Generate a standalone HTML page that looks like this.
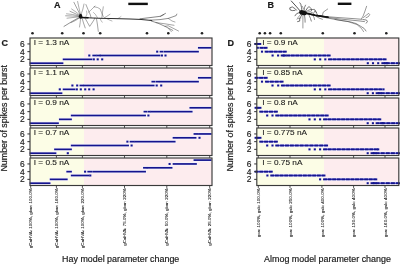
<!DOCTYPE html><html><head><meta charset="utf-8"><style>
html,body{margin:0;padding:0;background:#fff;overflow:hidden;width:400px;height:265px}
svg{display:block;filter:blur(0.3px)}
text{font-family:"Liberation Sans",sans-serif;fill:#1a1a1a;stroke:#1a1a1a;stroke-width:0.2px}
.big{font-size:9px;font-weight:bold}
.lab{stroke-width:0.1px}
.ax{stroke-width:0.18px}
.xl{stroke:#111;stroke-width:0.08px;fill:#111}
</style></head><body>
<svg width="400" height="265" viewBox="0 0 400 265">
<rect width="400" height="265" fill="#fff"/>
<rect x="30" y="38" width="54" height="27.5" fill="#fcfde6"/>
<rect x="84" y="38" width="128" height="27.5" fill="#fdecee"/>
<rect x="29" y="61.45" width="35" height="3.5" fill="#f6f3fc"/>
<rect x="62.1" y="57.6" width="30.9" height="3.5" fill="#f6f3fc"/>
<rect x="92.3" y="57.6" width="2.7" height="3.5" fill="#f6f3fc"/>
<rect x="96.2" y="57.6" width="2.7" height="3.5" fill="#f6f3fc"/>
<rect x="100.7" y="57.6" width="2.7" height="3.5" fill="#f6f3fc"/>
<rect x="87.8" y="53.75" width="2.7" height="3.5" fill="#f6f3fc"/>
<rect x="91.7" y="53.75" width="5.6" height="3.5" fill="#f6f3fc"/>
<rect x="95.7" y="53.75" width="5.7" height="3.5" fill="#f6f3fc"/>
<rect x="99" y="53.75" width="62" height="3.5" fill="#f6f3fc"/>
<rect x="160.4" y="53.75" width="2.7" height="3.5" fill="#f6f3fc"/>
<rect x="164" y="53.75" width="2.7" height="3.5" fill="#f6f3fc"/>
<rect x="155.7" y="49.9" width="2.7" height="3.5" fill="#f6f3fc"/>
<rect x="159" y="49.9" width="5" height="3.5" fill="#f6f3fc"/>
<rect x="163" y="49.9" width="36.5" height="3.5" fill="#f6f3fc"/>
<rect x="197.3" y="46.05" width="14.9" height="3.5" fill="#f6f3fc"/>
<rect x="29.65" y="62.35" width="33.7" height="1.7" fill="#14148e"/>
<rect x="62.75" y="58.5" width="29.6" height="1.7" fill="#14148e"/>
<rect x="92.75" y="58.35" width="2.1" height="2" fill="#14148e"/>
<rect x="96.65" y="58.35" width="2.1" height="2" fill="#14148e"/>
<rect x="101.15" y="58.35" width="2.1" height="2" fill="#14148e"/>
<rect x="88.25" y="54.5" width="2.1" height="2" fill="#14148e"/>
<rect x="92.35" y="54.65" width="4.3" height="1.7" fill="#14148e"/>
<rect x="96.35" y="54.65" width="4.4" height="1.7" fill="#14148e"/>
<rect x="99.65" y="54.65" width="60.7" height="1.7" fill="#14148e"/>
<rect x="160.85" y="54.5" width="2.1" height="2" fill="#14148e"/>
<rect x="164.45" y="54.5" width="2.1" height="2" fill="#14148e"/>
<rect x="156.15" y="50.65" width="2.1" height="2" fill="#14148e"/>
<rect x="159.65" y="50.8" width="3.7" height="1.7" fill="#14148e"/>
<rect x="163.65" y="50.8" width="35.2" height="1.7" fill="#14148e"/>
<rect x="197.95" y="46.95" width="13.6" height="1.7" fill="#14148e"/>
<rect x="30" y="38" width="182" height="27.5" fill="none" stroke="#3a3a3a" stroke-width="1.15"/>
<line x1="27.4" y1="59.35" x2="30" y2="59.35" stroke="#333" stroke-width="1"/>
<text x="24.6" y="62.25" class="tk" font-size="8.6" textLength="4.71" lengthAdjust="spacingAndGlyphs" text-anchor="end" style="stroke-width:0.15px">2</text>
<line x1="27.4" y1="51.65" x2="30" y2="51.65" stroke="#333" stroke-width="1"/>
<text x="24.6" y="54.55" class="tk" font-size="8.6" textLength="4.71" lengthAdjust="spacingAndGlyphs" text-anchor="end" style="stroke-width:0.15px">4</text>
<line x1="27.4" y1="43.95" x2="30" y2="43.95" stroke="#333" stroke-width="1"/>
<text x="24.6" y="46.85" class="tk" font-size="8.6" textLength="4.71" lengthAdjust="spacingAndGlyphs" text-anchor="end" style="stroke-width:0.15px">6</text>
<line x1="30.7" y1="65.5" x2="30.7" y2="67.9" stroke="#3a3a3a" stroke-width="0.9"/>
<line x1="56.4" y1="65.5" x2="56.4" y2="67.9" stroke="#3a3a3a" stroke-width="0.9"/>
<line x1="82.4" y1="65.5" x2="82.4" y2="67.9" stroke="#3a3a3a" stroke-width="0.9"/>
<line x1="124.5" y1="65.5" x2="124.5" y2="67.9" stroke="#3a3a3a" stroke-width="0.9"/>
<line x1="166.8" y1="65.5" x2="166.8" y2="67.9" stroke="#3a3a3a" stroke-width="0.9"/>
<line x1="209.7" y1="65.5" x2="209.7" y2="67.9" stroke="#3a3a3a" stroke-width="0.9"/>
<text x="33.7" y="45.3" class="lab" font-size="7.6" textLength="35.71" lengthAdjust="spacingAndGlyphs">I = 1.3 nA</text>
<rect x="256.8" y="38" width="67.2" height="27.5" fill="#fcfde6"/>
<rect x="324" y="38" width="74.8" height="27.5" fill="#fdecee"/>
<rect x="254.8" y="42.2" width="6" height="3.5" fill="#f6f3fc"/>
<rect x="256.3" y="46.05" width="2.7" height="3.5" fill="#f6f3fc"/>
<rect x="259.9" y="46.05" width="7.2" height="3.5" fill="#f6f3fc"/>
<rect x="260.5" y="49.9" width="2.7" height="3.5" fill="#f6f3fc"/>
<rect x="265.1" y="49.9" width="21.2" height="3.5" fill="#f6f3fc"/>
<rect x="271.1" y="53.75" width="2.7" height="3.5" fill="#f6f3fc"/>
<rect x="276.6" y="53.75" width="2.7" height="3.5" fill="#f6f3fc"/>
<rect x="281.2" y="53.75" width="5.1" height="3.5" fill="#f6f3fc"/>
<rect x="286.8" y="53.75" width="43.4" height="3.5" fill="#f6f3fc"/>
<rect x="313.3" y="57.6" width="2.7" height="3.5" fill="#f6f3fc"/>
<rect x="318.7" y="57.6" width="2.7" height="3.5" fill="#f6f3fc"/>
<rect x="323.8" y="57.6" width="2.7" height="3.5" fill="#f6f3fc"/>
<rect x="328.5" y="57.6" width="57.6" height="3.5" fill="#f6f3fc"/>
<rect x="366.3" y="61.45" width="2.7" height="3.5" fill="#f6f3fc"/>
<rect x="371.5" y="61.45" width="2.7" height="3.5" fill="#f6f3fc"/>
<rect x="376.7" y="61.45" width="2.7" height="3.5" fill="#f6f3fc"/>
<rect x="381.8" y="61.45" width="5.8" height="3.5" fill="#f6f3fc"/>
<rect x="386.3" y="61.45" width="13.2" height="3.5" fill="#f6f3fc"/>
<rect x="255.45" y="43.25" width="4.7" height="1.4" fill="#4a4ac4"/>
<rect x="254.35" y="43" width="3.9" height="1.9" fill="#14148e"/>
<rect x="257.35" y="43" width="3.9" height="1.9" fill="#14148e"/>
<rect x="256.75" y="46.8" width="2.1" height="2" fill="#14148e"/>
<rect x="260.55" y="47.1" width="5.9" height="1.4" fill="#4a4ac4"/>
<rect x="259.45" y="46.85" width="3.9" height="1.9" fill="#14148e"/>
<rect x="263.65" y="46.85" width="3.9" height="1.9" fill="#14148e"/>
<rect x="260.95" y="50.65" width="2.1" height="2" fill="#14148e"/>
<rect x="265.75" y="50.95" width="19.9" height="1.4" fill="#4a4ac4"/>
<rect x="264.65" y="50.7" width="3.9" height="1.9" fill="#14148e"/>
<rect x="269.2" y="50.7" width="3.9" height="1.9" fill="#14148e"/>
<rect x="273.75" y="50.7" width="3.9" height="1.9" fill="#14148e"/>
<rect x="278.3" y="50.7" width="3.9" height="1.9" fill="#14148e"/>
<rect x="282.85" y="50.7" width="3.9" height="1.9" fill="#14148e"/>
<rect x="271.55" y="54.5" width="2.1" height="2" fill="#14148e"/>
<rect x="277.05" y="54.5" width="2.1" height="2" fill="#14148e"/>
<rect x="281.85" y="54.8" width="3.8" height="1.4" fill="#4a4ac4"/>
<rect x="280.75" y="54.55" width="3.9" height="1.9" fill="#14148e"/>
<rect x="282.85" y="54.55" width="3.9" height="1.9" fill="#14148e"/>
<rect x="287.45" y="54.8" width="42.1" height="1.4" fill="#4a4ac4"/>
<rect x="286.35" y="54.55" width="3.9" height="1.9" fill="#14148e"/>
<rect x="290.84" y="54.55" width="3.9" height="1.9" fill="#14148e"/>
<rect x="295.33" y="54.55" width="3.9" height="1.9" fill="#14148e"/>
<rect x="299.82" y="54.55" width="3.9" height="1.9" fill="#14148e"/>
<rect x="304.31" y="54.55" width="3.9" height="1.9" fill="#14148e"/>
<rect x="308.79" y="54.55" width="3.9" height="1.9" fill="#14148e"/>
<rect x="313.28" y="54.55" width="3.9" height="1.9" fill="#14148e"/>
<rect x="317.77" y="54.55" width="3.9" height="1.9" fill="#14148e"/>
<rect x="322.26" y="54.55" width="3.9" height="1.9" fill="#14148e"/>
<rect x="326.75" y="54.55" width="3.9" height="1.9" fill="#14148e"/>
<rect x="313.75" y="58.35" width="2.1" height="2" fill="#14148e"/>
<rect x="319.15" y="58.35" width="2.1" height="2" fill="#14148e"/>
<rect x="324.25" y="58.35" width="2.1" height="2" fill="#14148e"/>
<rect x="329.15" y="58.65" width="56.3" height="1.4" fill="#4a4ac4"/>
<rect x="328.05" y="58.4" width="3.9" height="1.9" fill="#14148e"/>
<rect x="332.6" y="58.4" width="3.9" height="1.9" fill="#14148e"/>
<rect x="337.15" y="58.4" width="3.9" height="1.9" fill="#14148e"/>
<rect x="341.7" y="58.4" width="3.9" height="1.9" fill="#14148e"/>
<rect x="346.25" y="58.4" width="3.9" height="1.9" fill="#14148e"/>
<rect x="350.8" y="58.4" width="3.9" height="1.9" fill="#14148e"/>
<rect x="355.35" y="58.4" width="3.9" height="1.9" fill="#14148e"/>
<rect x="359.9" y="58.4" width="3.9" height="1.9" fill="#14148e"/>
<rect x="364.45" y="58.4" width="3.9" height="1.9" fill="#14148e"/>
<rect x="369" y="58.4" width="3.9" height="1.9" fill="#14148e"/>
<rect x="373.55" y="58.4" width="3.9" height="1.9" fill="#14148e"/>
<rect x="378.1" y="58.4" width="3.9" height="1.9" fill="#14148e"/>
<rect x="382.65" y="58.4" width="3.9" height="1.9" fill="#14148e"/>
<rect x="366.75" y="62.2" width="2.1" height="2" fill="#14148e"/>
<rect x="371.95" y="62.2" width="2.1" height="2" fill="#14148e"/>
<rect x="377.15" y="62.2" width="2.1" height="2" fill="#14148e"/>
<rect x="382.45" y="62.5" width="4.5" height="1.4" fill="#4a4ac4"/>
<rect x="381.35" y="62.25" width="3.9" height="1.9" fill="#14148e"/>
<rect x="384.15" y="62.25" width="3.9" height="1.9" fill="#14148e"/>
<rect x="386.95" y="62.5" width="11.9" height="1.4" fill="#4a4ac4"/>
<rect x="385.85" y="62.25" width="3.9" height="1.9" fill="#14148e"/>
<rect x="390.95" y="62.25" width="3.9" height="1.9" fill="#14148e"/>
<rect x="396.05" y="62.25" width="3.9" height="1.9" fill="#14148e"/>
<rect x="256.8" y="38" width="142" height="27.5" fill="none" stroke="#3a3a3a" stroke-width="1.15"/>
<line x1="254.2" y1="59.35" x2="256.8" y2="59.35" stroke="#333" stroke-width="1"/>
<text x="251.4" y="62.25" class="tk" font-size="8.6" textLength="4.71" lengthAdjust="spacingAndGlyphs" text-anchor="end" style="stroke-width:0.15px">2</text>
<line x1="254.2" y1="51.65" x2="256.8" y2="51.65" stroke="#333" stroke-width="1"/>
<text x="251.4" y="54.55" class="tk" font-size="8.6" textLength="4.71" lengthAdjust="spacingAndGlyphs" text-anchor="end" style="stroke-width:0.15px">4</text>
<line x1="254.2" y1="43.95" x2="256.8" y2="43.95" stroke="#333" stroke-width="1"/>
<text x="251.4" y="46.85" class="tk" font-size="8.6" textLength="4.71" lengthAdjust="spacingAndGlyphs" text-anchor="end" style="stroke-width:0.15px">6</text>
<line x1="258.3" y1="65.5" x2="258.3" y2="67.9" stroke="#3a3a3a" stroke-width="0.9"/>
<line x1="290" y1="65.5" x2="290" y2="67.9" stroke="#3a3a3a" stroke-width="0.9"/>
<line x1="321.9" y1="65.5" x2="321.9" y2="67.9" stroke="#3a3a3a" stroke-width="0.9"/>
<line x1="353.6" y1="65.5" x2="353.6" y2="67.9" stroke="#3a3a3a" stroke-width="0.9"/>
<line x1="385" y1="65.5" x2="385" y2="67.9" stroke="#3a3a3a" stroke-width="0.9"/>
<text x="262.2" y="45.3" class="lab" font-size="7.6" textLength="35.71" lengthAdjust="spacingAndGlyphs">I = 0.9 nA</text>
<rect x="30" y="68" width="54" height="27.5" fill="#fcfde6"/>
<rect x="84" y="68" width="128" height="27.5" fill="#fdecee"/>
<rect x="29" y="91.45" width="34" height="3.5" fill="#f6f3fc"/>
<rect x="58.3" y="87.6" width="2.7" height="3.5" fill="#f6f3fc"/>
<rect x="62.1" y="87.6" width="13.9" height="3.5" fill="#f6f3fc"/>
<rect x="75.3" y="87.6" width="2.7" height="3.5" fill="#f6f3fc"/>
<rect x="79.3" y="87.6" width="2.7" height="3.5" fill="#f6f3fc"/>
<rect x="83.7" y="87.6" width="2.7" height="3.5" fill="#f6f3fc"/>
<rect x="87.7" y="87.6" width="2.7" height="3.5" fill="#f6f3fc"/>
<rect x="92.1" y="87.6" width="2.7" height="3.5" fill="#f6f3fc"/>
<rect x="70.9" y="83.75" width="2.7" height="3.5" fill="#f6f3fc"/>
<rect x="75.7" y="83.75" width="2.7" height="3.5" fill="#f6f3fc"/>
<rect x="78.9" y="83.75" width="5.8" height="3.5" fill="#f6f3fc"/>
<rect x="82.9" y="83.75" width="5.8" height="3.5" fill="#f6f3fc"/>
<rect x="87.3" y="83.75" width="5.8" height="3.5" fill="#f6f3fc"/>
<rect x="91.5" y="83.75" width="63.7" height="3.5" fill="#f6f3fc"/>
<rect x="155.2" y="83.75" width="2.7" height="3.5" fill="#f6f3fc"/>
<rect x="159.7" y="83.75" width="2.7" height="3.5" fill="#f6f3fc"/>
<rect x="150.8" y="79.9" width="5.2" height="3.5" fill="#f6f3fc"/>
<rect x="155" y="79.9" width="4.9" height="3.5" fill="#f6f3fc"/>
<rect x="158.3" y="79.9" width="41.2" height="3.5" fill="#f6f3fc"/>
<rect x="197.3" y="76.05" width="14.9" height="3.5" fill="#f6f3fc"/>
<rect x="29.65" y="92.35" width="32.7" height="1.7" fill="#14148e"/>
<rect x="58.75" y="88.35" width="2.1" height="2" fill="#14148e"/>
<rect x="62.75" y="88.5" width="12.6" height="1.7" fill="#14148e"/>
<rect x="75.75" y="88.35" width="2.1" height="2" fill="#14148e"/>
<rect x="79.75" y="88.35" width="2.1" height="2" fill="#14148e"/>
<rect x="84.15" y="88.35" width="2.1" height="2" fill="#14148e"/>
<rect x="88.15" y="88.35" width="2.1" height="2" fill="#14148e"/>
<rect x="92.55" y="88.35" width="2.1" height="2" fill="#14148e"/>
<rect x="71.35" y="84.5" width="2.1" height="2" fill="#14148e"/>
<rect x="76.15" y="84.5" width="2.1" height="2" fill="#14148e"/>
<rect x="79.55" y="84.65" width="4.5" height="1.7" fill="#14148e"/>
<rect x="83.55" y="84.65" width="4.5" height="1.7" fill="#14148e"/>
<rect x="87.95" y="84.65" width="4.5" height="1.7" fill="#14148e"/>
<rect x="92.15" y="84.65" width="62.4" height="1.7" fill="#14148e"/>
<rect x="155.65" y="84.5" width="2.1" height="2" fill="#14148e"/>
<rect x="160.15" y="84.5" width="2.1" height="2" fill="#14148e"/>
<rect x="151.45" y="80.8" width="3.9" height="1.7" fill="#14148e"/>
<rect x="155.65" y="80.8" width="3.6" height="1.7" fill="#14148e"/>
<rect x="158.95" y="80.8" width="39.9" height="1.7" fill="#14148e"/>
<rect x="197.95" y="76.95" width="13.6" height="1.7" fill="#14148e"/>
<rect x="30" y="68" width="182" height="27.5" fill="none" stroke="#3a3a3a" stroke-width="1.15"/>
<line x1="27.4" y1="89.35" x2="30" y2="89.35" stroke="#333" stroke-width="1"/>
<text x="24.6" y="92.25" class="tk" font-size="8.6" textLength="4.71" lengthAdjust="spacingAndGlyphs" text-anchor="end" style="stroke-width:0.15px">2</text>
<line x1="27.4" y1="81.65" x2="30" y2="81.65" stroke="#333" stroke-width="1"/>
<text x="24.6" y="84.55" class="tk" font-size="8.6" textLength="4.71" lengthAdjust="spacingAndGlyphs" text-anchor="end" style="stroke-width:0.15px">4</text>
<line x1="27.4" y1="73.95" x2="30" y2="73.95" stroke="#333" stroke-width="1"/>
<text x="24.6" y="76.85" class="tk" font-size="8.6" textLength="4.71" lengthAdjust="spacingAndGlyphs" text-anchor="end" style="stroke-width:0.15px">6</text>
<line x1="30.7" y1="95.5" x2="30.7" y2="97.9" stroke="#3a3a3a" stroke-width="0.9"/>
<line x1="56.4" y1="95.5" x2="56.4" y2="97.9" stroke="#3a3a3a" stroke-width="0.9"/>
<line x1="82.4" y1="95.5" x2="82.4" y2="97.9" stroke="#3a3a3a" stroke-width="0.9"/>
<line x1="124.5" y1="95.5" x2="124.5" y2="97.9" stroke="#3a3a3a" stroke-width="0.9"/>
<line x1="166.8" y1="95.5" x2="166.8" y2="97.9" stroke="#3a3a3a" stroke-width="0.9"/>
<line x1="209.7" y1="95.5" x2="209.7" y2="97.9" stroke="#3a3a3a" stroke-width="0.9"/>
<text x="33.7" y="75.3" class="lab" font-size="7.6" textLength="35.71" lengthAdjust="spacingAndGlyphs">I = 1.1 nA</text>
<rect x="256.8" y="68" width="67.2" height="27.5" fill="#fcfde6"/>
<rect x="324" y="68" width="74.8" height="27.5" fill="#fdecee"/>
<rect x="255" y="76.05" width="12.2" height="3.5" fill="#f6f3fc"/>
<rect x="260.5" y="79.9" width="2.7" height="3.5" fill="#f6f3fc"/>
<rect x="265.4" y="79.9" width="17.7" height="3.5" fill="#f6f3fc"/>
<rect x="271" y="83.75" width="2.7" height="3.5" fill="#f6f3fc"/>
<rect x="276.7" y="83.75" width="2.7" height="3.5" fill="#f6f3fc"/>
<rect x="281.4" y="83.75" width="48.8" height="3.5" fill="#f6f3fc"/>
<rect x="313.3" y="87.6" width="2.7" height="3.5" fill="#f6f3fc"/>
<rect x="318.6" y="87.6" width="2.7" height="3.5" fill="#f6f3fc"/>
<rect x="323.8" y="87.6" width="2.7" height="3.5" fill="#f6f3fc"/>
<rect x="328.5" y="87.6" width="53.4" height="3.5" fill="#f6f3fc"/>
<rect x="382" y="87.6" width="2.7" height="3.5" fill="#f6f3fc"/>
<rect x="366.2" y="91.45" width="2.7" height="3.5" fill="#f6f3fc"/>
<rect x="371.4" y="91.45" width="2.7" height="3.5" fill="#f6f3fc"/>
<rect x="376.1" y="91.45" width="5.3" height="3.5" fill="#f6f3fc"/>
<rect x="381.2" y="91.45" width="18.3" height="3.5" fill="#f6f3fc"/>
<rect x="255.65" y="77.1" width="10.9" height="1.4" fill="#4a4ac4"/>
<rect x="254.55" y="76.85" width="3.9" height="1.9" fill="#14148e"/>
<rect x="259.15" y="76.85" width="3.9" height="1.9" fill="#14148e"/>
<rect x="263.75" y="76.85" width="3.9" height="1.9" fill="#14148e"/>
<rect x="260.95" y="80.65" width="2.1" height="2" fill="#14148e"/>
<rect x="266.05" y="80.95" width="16.4" height="1.4" fill="#4a4ac4"/>
<rect x="264.95" y="80.7" width="3.9" height="1.9" fill="#14148e"/>
<rect x="269.85" y="80.7" width="3.9" height="1.9" fill="#14148e"/>
<rect x="274.75" y="80.7" width="3.9" height="1.9" fill="#14148e"/>
<rect x="279.65" y="80.7" width="3.9" height="1.9" fill="#14148e"/>
<rect x="271.45" y="84.5" width="2.1" height="2" fill="#14148e"/>
<rect x="277.15" y="84.5" width="2.1" height="2" fill="#14148e"/>
<rect x="282.05" y="84.8" width="47.5" height="1.4" fill="#4a4ac4"/>
<rect x="280.95" y="84.55" width="3.9" height="1.9" fill="#14148e"/>
<rect x="285.53" y="84.55" width="3.9" height="1.9" fill="#14148e"/>
<rect x="290.11" y="84.55" width="3.9" height="1.9" fill="#14148e"/>
<rect x="294.69" y="84.55" width="3.9" height="1.9" fill="#14148e"/>
<rect x="299.27" y="84.55" width="3.9" height="1.9" fill="#14148e"/>
<rect x="303.85" y="84.55" width="3.9" height="1.9" fill="#14148e"/>
<rect x="308.43" y="84.55" width="3.9" height="1.9" fill="#14148e"/>
<rect x="313.01" y="84.55" width="3.9" height="1.9" fill="#14148e"/>
<rect x="317.59" y="84.55" width="3.9" height="1.9" fill="#14148e"/>
<rect x="322.17" y="84.55" width="3.9" height="1.9" fill="#14148e"/>
<rect x="326.75" y="84.55" width="3.9" height="1.9" fill="#14148e"/>
<rect x="313.75" y="88.35" width="2.1" height="2" fill="#14148e"/>
<rect x="319.05" y="88.35" width="2.1" height="2" fill="#14148e"/>
<rect x="324.25" y="88.35" width="2.1" height="2" fill="#14148e"/>
<rect x="329.15" y="88.65" width="52.1" height="1.4" fill="#4a4ac4"/>
<rect x="328.05" y="88.4" width="3.9" height="1.9" fill="#14148e"/>
<rect x="332.63" y="88.4" width="3.9" height="1.9" fill="#14148e"/>
<rect x="337.21" y="88.4" width="3.9" height="1.9" fill="#14148e"/>
<rect x="341.8" y="88.4" width="3.9" height="1.9" fill="#14148e"/>
<rect x="346.38" y="88.4" width="3.9" height="1.9" fill="#14148e"/>
<rect x="350.96" y="88.4" width="3.9" height="1.9" fill="#14148e"/>
<rect x="355.54" y="88.4" width="3.9" height="1.9" fill="#14148e"/>
<rect x="360.12" y="88.4" width="3.9" height="1.9" fill="#14148e"/>
<rect x="364.7" y="88.4" width="3.9" height="1.9" fill="#14148e"/>
<rect x="369.29" y="88.4" width="3.9" height="1.9" fill="#14148e"/>
<rect x="373.87" y="88.4" width="3.9" height="1.9" fill="#14148e"/>
<rect x="378.45" y="88.4" width="3.9" height="1.9" fill="#14148e"/>
<rect x="382.45" y="88.35" width="2.1" height="2" fill="#14148e"/>
<rect x="366.65" y="92.2" width="2.1" height="2" fill="#14148e"/>
<rect x="371.85" y="92.2" width="2.1" height="2" fill="#14148e"/>
<rect x="376.75" y="92.5" width="4" height="1.4" fill="#4a4ac4"/>
<rect x="375.65" y="92.25" width="3.9" height="1.9" fill="#14148e"/>
<rect x="377.95" y="92.25" width="3.9" height="1.9" fill="#14148e"/>
<rect x="381.85" y="92.5" width="17" height="1.4" fill="#4a4ac4"/>
<rect x="380.75" y="92.25" width="3.9" height="1.9" fill="#14148e"/>
<rect x="385.85" y="92.25" width="3.9" height="1.9" fill="#14148e"/>
<rect x="390.95" y="92.25" width="3.9" height="1.9" fill="#14148e"/>
<rect x="396.05" y="92.25" width="3.9" height="1.9" fill="#14148e"/>
<rect x="256.8" y="68" width="142" height="27.5" fill="none" stroke="#3a3a3a" stroke-width="1.15"/>
<line x1="254.2" y1="89.35" x2="256.8" y2="89.35" stroke="#333" stroke-width="1"/>
<text x="251.4" y="92.25" class="tk" font-size="8.6" textLength="4.71" lengthAdjust="spacingAndGlyphs" text-anchor="end" style="stroke-width:0.15px">2</text>
<line x1="254.2" y1="81.65" x2="256.8" y2="81.65" stroke="#333" stroke-width="1"/>
<text x="251.4" y="84.55" class="tk" font-size="8.6" textLength="4.71" lengthAdjust="spacingAndGlyphs" text-anchor="end" style="stroke-width:0.15px">4</text>
<line x1="254.2" y1="73.95" x2="256.8" y2="73.95" stroke="#333" stroke-width="1"/>
<text x="251.4" y="76.85" class="tk" font-size="8.6" textLength="4.71" lengthAdjust="spacingAndGlyphs" text-anchor="end" style="stroke-width:0.15px">6</text>
<line x1="258.3" y1="95.5" x2="258.3" y2="97.9" stroke="#3a3a3a" stroke-width="0.9"/>
<line x1="290" y1="95.5" x2="290" y2="97.9" stroke="#3a3a3a" stroke-width="0.9"/>
<line x1="321.9" y1="95.5" x2="321.9" y2="97.9" stroke="#3a3a3a" stroke-width="0.9"/>
<line x1="353.6" y1="95.5" x2="353.6" y2="97.9" stroke="#3a3a3a" stroke-width="0.9"/>
<line x1="385" y1="95.5" x2="385" y2="97.9" stroke="#3a3a3a" stroke-width="0.9"/>
<text x="262.2" y="75.3" class="lab" font-size="7.6" textLength="40.26" lengthAdjust="spacingAndGlyphs">I = 0.85 nA</text>
<rect x="30" y="98" width="54" height="27.5" fill="#fcfde6"/>
<rect x="84" y="98" width="128" height="27.5" fill="#fdecee"/>
<rect x="29" y="121.45" width="30.5" height="3.5" fill="#f6f3fc"/>
<rect x="58.3" y="117.6" width="14.2" height="3.5" fill="#f6f3fc"/>
<rect x="70.2" y="113.75" width="76.4" height="3.5" fill="#f6f3fc"/>
<rect x="146.9" y="113.75" width="2.7" height="3.5" fill="#f6f3fc"/>
<rect x="142.9" y="109.9" width="5.1" height="3.5" fill="#f6f3fc"/>
<rect x="147" y="109.9" width="4.5" height="3.5" fill="#f6f3fc"/>
<rect x="149.9" y="109.9" width="43.3" height="3.5" fill="#f6f3fc"/>
<rect x="188.8" y="106.05" width="23.4" height="3.5" fill="#f6f3fc"/>
<rect x="29.65" y="122.35" width="29.2" height="1.7" fill="#14148e"/>
<rect x="58.95" y="118.5" width="12.9" height="1.7" fill="#14148e"/>
<rect x="70.85" y="114.65" width="75.1" height="1.7" fill="#14148e"/>
<rect x="147.35" y="114.5" width="2.1" height="2" fill="#14148e"/>
<rect x="143.55" y="110.8" width="3.8" height="1.7" fill="#14148e"/>
<rect x="147.65" y="110.8" width="3.2" height="1.7" fill="#14148e"/>
<rect x="150.55" y="110.8" width="42" height="1.7" fill="#14148e"/>
<rect x="189.45" y="106.95" width="22.1" height="1.7" fill="#14148e"/>
<rect x="30" y="98" width="182" height="27.5" fill="none" stroke="#3a3a3a" stroke-width="1.15"/>
<line x1="27.4" y1="119.35" x2="30" y2="119.35" stroke="#333" stroke-width="1"/>
<text x="24.6" y="122.25" class="tk" font-size="8.6" textLength="4.71" lengthAdjust="spacingAndGlyphs" text-anchor="end" style="stroke-width:0.15px">2</text>
<line x1="27.4" y1="111.65" x2="30" y2="111.65" stroke="#333" stroke-width="1"/>
<text x="24.6" y="114.55" class="tk" font-size="8.6" textLength="4.71" lengthAdjust="spacingAndGlyphs" text-anchor="end" style="stroke-width:0.15px">4</text>
<line x1="27.4" y1="103.95" x2="30" y2="103.95" stroke="#333" stroke-width="1"/>
<text x="24.6" y="106.85" class="tk" font-size="8.6" textLength="4.71" lengthAdjust="spacingAndGlyphs" text-anchor="end" style="stroke-width:0.15px">6</text>
<line x1="30.7" y1="125.5" x2="30.7" y2="127.9" stroke="#3a3a3a" stroke-width="0.9"/>
<line x1="56.4" y1="125.5" x2="56.4" y2="127.9" stroke="#3a3a3a" stroke-width="0.9"/>
<line x1="82.4" y1="125.5" x2="82.4" y2="127.9" stroke="#3a3a3a" stroke-width="0.9"/>
<line x1="124.5" y1="125.5" x2="124.5" y2="127.9" stroke="#3a3a3a" stroke-width="0.9"/>
<line x1="166.8" y1="125.5" x2="166.8" y2="127.9" stroke="#3a3a3a" stroke-width="0.9"/>
<line x1="209.7" y1="125.5" x2="209.7" y2="127.9" stroke="#3a3a3a" stroke-width="0.9"/>
<text x="33.7" y="105.3" class="lab" font-size="7.6" textLength="35.71" lengthAdjust="spacingAndGlyphs">I = 0.9 nA</text>
<rect x="256.8" y="98" width="67.2" height="27.5" fill="#fcfde6"/>
<rect x="324" y="98" width="74.8" height="27.5" fill="#fdecee"/>
<rect x="255" y="106.05" width="6" height="3.5" fill="#f6f3fc"/>
<rect x="259.7" y="109.9" width="17.7" height="3.5" fill="#f6f3fc"/>
<rect x="265.7" y="113.75" width="2.7" height="3.5" fill="#f6f3fc"/>
<rect x="271" y="113.75" width="2.7" height="3.5" fill="#f6f3fc"/>
<rect x="275.7" y="113.75" width="52.5" height="3.5" fill="#f6f3fc"/>
<rect x="308" y="117.6" width="2.7" height="3.5" fill="#f6f3fc"/>
<rect x="313.3" y="117.6" width="2.7" height="3.5" fill="#f6f3fc"/>
<rect x="318.6" y="117.6" width="2.7" height="3.5" fill="#f6f3fc"/>
<rect x="323.5" y="117.6" width="57.3" height="3.5" fill="#f6f3fc"/>
<rect x="366.2" y="121.45" width="2.7" height="3.5" fill="#f6f3fc"/>
<rect x="371.4" y="121.45" width="2.7" height="3.5" fill="#f6f3fc"/>
<rect x="376.1" y="121.45" width="7.4" height="3.5" fill="#f6f3fc"/>
<rect x="382" y="121.45" width="17.5" height="3.5" fill="#f6f3fc"/>
<rect x="255.65" y="107.1" width="4.7" height="1.4" fill="#4a4ac4"/>
<rect x="254.55" y="106.85" width="3.9" height="1.9" fill="#14148e"/>
<rect x="257.55" y="106.85" width="3.9" height="1.9" fill="#14148e"/>
<rect x="260.35" y="110.95" width="16.4" height="1.4" fill="#4a4ac4"/>
<rect x="259.25" y="110.7" width="3.9" height="1.9" fill="#14148e"/>
<rect x="264.15" y="110.7" width="3.9" height="1.9" fill="#14148e"/>
<rect x="269.05" y="110.7" width="3.9" height="1.9" fill="#14148e"/>
<rect x="273.95" y="110.7" width="3.9" height="1.9" fill="#14148e"/>
<rect x="266.15" y="114.5" width="2.1" height="2" fill="#14148e"/>
<rect x="271.45" y="114.5" width="2.1" height="2" fill="#14148e"/>
<rect x="276.35" y="114.8" width="51.2" height="1.4" fill="#4a4ac4"/>
<rect x="275.25" y="114.55" width="3.9" height="1.9" fill="#14148e"/>
<rect x="279.75" y="114.55" width="3.9" height="1.9" fill="#14148e"/>
<rect x="284.25" y="114.55" width="3.9" height="1.9" fill="#14148e"/>
<rect x="288.75" y="114.55" width="3.9" height="1.9" fill="#14148e"/>
<rect x="293.25" y="114.55" width="3.9" height="1.9" fill="#14148e"/>
<rect x="297.75" y="114.55" width="3.9" height="1.9" fill="#14148e"/>
<rect x="302.25" y="114.55" width="3.9" height="1.9" fill="#14148e"/>
<rect x="306.75" y="114.55" width="3.9" height="1.9" fill="#14148e"/>
<rect x="311.25" y="114.55" width="3.9" height="1.9" fill="#14148e"/>
<rect x="315.75" y="114.55" width="3.9" height="1.9" fill="#14148e"/>
<rect x="320.25" y="114.55" width="3.9" height="1.9" fill="#14148e"/>
<rect x="324.75" y="114.55" width="3.9" height="1.9" fill="#14148e"/>
<rect x="308.45" y="118.35" width="2.1" height="2" fill="#14148e"/>
<rect x="313.75" y="118.35" width="2.1" height="2" fill="#14148e"/>
<rect x="319.05" y="118.35" width="2.1" height="2" fill="#14148e"/>
<rect x="324.15" y="118.65" width="56" height="1.4" fill="#4a4ac4"/>
<rect x="323.05" y="118.4" width="3.9" height="1.9" fill="#14148e"/>
<rect x="327.57" y="118.4" width="3.9" height="1.9" fill="#14148e"/>
<rect x="332.1" y="118.4" width="3.9" height="1.9" fill="#14148e"/>
<rect x="336.62" y="118.4" width="3.9" height="1.9" fill="#14148e"/>
<rect x="341.15" y="118.4" width="3.9" height="1.9" fill="#14148e"/>
<rect x="345.68" y="118.4" width="3.9" height="1.9" fill="#14148e"/>
<rect x="350.2" y="118.4" width="3.9" height="1.9" fill="#14148e"/>
<rect x="354.73" y="118.4" width="3.9" height="1.9" fill="#14148e"/>
<rect x="359.25" y="118.4" width="3.9" height="1.9" fill="#14148e"/>
<rect x="363.78" y="118.4" width="3.9" height="1.9" fill="#14148e"/>
<rect x="368.3" y="118.4" width="3.9" height="1.9" fill="#14148e"/>
<rect x="372.83" y="118.4" width="3.9" height="1.9" fill="#14148e"/>
<rect x="377.35" y="118.4" width="3.9" height="1.9" fill="#14148e"/>
<rect x="366.65" y="122.2" width="2.1" height="2" fill="#14148e"/>
<rect x="371.85" y="122.2" width="2.1" height="2" fill="#14148e"/>
<rect x="376.75" y="122.5" width="6.1" height="1.4" fill="#4a4ac4"/>
<rect x="375.65" y="122.25" width="3.9" height="1.9" fill="#14148e"/>
<rect x="380.05" y="122.25" width="3.9" height="1.9" fill="#14148e"/>
<rect x="382.65" y="122.5" width="16.2" height="1.4" fill="#4a4ac4"/>
<rect x="381.55" y="122.25" width="3.9" height="1.9" fill="#14148e"/>
<rect x="386.38" y="122.25" width="3.9" height="1.9" fill="#14148e"/>
<rect x="391.22" y="122.25" width="3.9" height="1.9" fill="#14148e"/>
<rect x="396.05" y="122.25" width="3.9" height="1.9" fill="#14148e"/>
<rect x="256.8" y="98" width="142" height="27.5" fill="none" stroke="#3a3a3a" stroke-width="1.15"/>
<line x1="254.2" y1="119.35" x2="256.8" y2="119.35" stroke="#333" stroke-width="1"/>
<text x="251.4" y="122.25" class="tk" font-size="8.6" textLength="4.71" lengthAdjust="spacingAndGlyphs" text-anchor="end" style="stroke-width:0.15px">2</text>
<line x1="254.2" y1="111.65" x2="256.8" y2="111.65" stroke="#333" stroke-width="1"/>
<text x="251.4" y="114.55" class="tk" font-size="8.6" textLength="4.71" lengthAdjust="spacingAndGlyphs" text-anchor="end" style="stroke-width:0.15px">4</text>
<line x1="254.2" y1="103.95" x2="256.8" y2="103.95" stroke="#333" stroke-width="1"/>
<text x="251.4" y="106.85" class="tk" font-size="8.6" textLength="4.71" lengthAdjust="spacingAndGlyphs" text-anchor="end" style="stroke-width:0.15px">6</text>
<line x1="258.3" y1="125.5" x2="258.3" y2="127.9" stroke="#3a3a3a" stroke-width="0.9"/>
<line x1="290" y1="125.5" x2="290" y2="127.9" stroke="#3a3a3a" stroke-width="0.9"/>
<line x1="321.9" y1="125.5" x2="321.9" y2="127.9" stroke="#3a3a3a" stroke-width="0.9"/>
<line x1="353.6" y1="125.5" x2="353.6" y2="127.9" stroke="#3a3a3a" stroke-width="0.9"/>
<line x1="385" y1="125.5" x2="385" y2="127.9" stroke="#3a3a3a" stroke-width="0.9"/>
<text x="262.2" y="105.3" class="lab" font-size="7.6" textLength="35.71" lengthAdjust="spacingAndGlyphs">I = 0.8 nA</text>
<rect x="30" y="128" width="54" height="27.5" fill="#fcfde6"/>
<rect x="84" y="128" width="128" height="27.5" fill="#fdecee"/>
<rect x="29" y="151.45" width="28" height="3.5" fill="#f6f3fc"/>
<rect x="66.3" y="151.45" width="2.7" height="3.5" fill="#f6f3fc"/>
<rect x="53.5" y="147.6" width="19" height="3.5" fill="#f6f3fc"/>
<rect x="70.2" y="143.75" width="59.4" height="3.5" fill="#f6f3fc"/>
<rect x="130.1" y="143.75" width="2.7" height="3.5" fill="#f6f3fc"/>
<rect x="125.9" y="139.9" width="2.7" height="3.5" fill="#f6f3fc"/>
<rect x="129" y="139.9" width="6" height="3.5" fill="#f6f3fc"/>
<rect x="133.5" y="139.9" width="42.7" height="3.5" fill="#f6f3fc"/>
<rect x="172" y="136.05" width="5.8" height="3.5" fill="#f6f3fc"/>
<rect x="176.2" y="136.05" width="20.9" height="3.5" fill="#f6f3fc"/>
<rect x="198" y="136.05" width="2.7" height="3.5" fill="#f6f3fc"/>
<rect x="192.9" y="132.2" width="6.1" height="3.5" fill="#f6f3fc"/>
<rect x="197.5" y="132.2" width="14.7" height="3.5" fill="#f6f3fc"/>
<rect x="29.65" y="152.35" width="26.7" height="1.7" fill="#14148e"/>
<rect x="66.75" y="152.2" width="2.1" height="2" fill="#14148e"/>
<rect x="54.15" y="148.5" width="17.7" height="1.7" fill="#14148e"/>
<rect x="70.85" y="144.65" width="58.1" height="1.7" fill="#14148e"/>
<rect x="130.55" y="144.5" width="2.1" height="2" fill="#14148e"/>
<rect x="126.35" y="140.65" width="2.1" height="2" fill="#14148e"/>
<rect x="129.65" y="140.8" width="4.7" height="1.7" fill="#14148e"/>
<rect x="134.15" y="140.8" width="41.4" height="1.7" fill="#14148e"/>
<rect x="172.65" y="136.95" width="4.5" height="1.7" fill="#14148e"/>
<rect x="176.85" y="136.95" width="19.6" height="1.7" fill="#14148e"/>
<rect x="198.45" y="136.8" width="2.1" height="2" fill="#14148e"/>
<rect x="193.55" y="133.1" width="4.8" height="1.7" fill="#14148e"/>
<rect x="198.15" y="133.1" width="13.4" height="1.7" fill="#14148e"/>
<rect x="30" y="128" width="182" height="27.5" fill="none" stroke="#3a3a3a" stroke-width="1.15"/>
<line x1="27.4" y1="149.35" x2="30" y2="149.35" stroke="#333" stroke-width="1"/>
<text x="24.6" y="152.25" class="tk" font-size="8.6" textLength="4.71" lengthAdjust="spacingAndGlyphs" text-anchor="end" style="stroke-width:0.15px">2</text>
<line x1="27.4" y1="141.65" x2="30" y2="141.65" stroke="#333" stroke-width="1"/>
<text x="24.6" y="144.55" class="tk" font-size="8.6" textLength="4.71" lengthAdjust="spacingAndGlyphs" text-anchor="end" style="stroke-width:0.15px">4</text>
<line x1="27.4" y1="133.95" x2="30" y2="133.95" stroke="#333" stroke-width="1"/>
<text x="24.6" y="136.85" class="tk" font-size="8.6" textLength="4.71" lengthAdjust="spacingAndGlyphs" text-anchor="end" style="stroke-width:0.15px">6</text>
<line x1="30.7" y1="155.5" x2="30.7" y2="157.9" stroke="#3a3a3a" stroke-width="0.9"/>
<line x1="56.4" y1="155.5" x2="56.4" y2="157.9" stroke="#3a3a3a" stroke-width="0.9"/>
<line x1="82.4" y1="155.5" x2="82.4" y2="157.9" stroke="#3a3a3a" stroke-width="0.9"/>
<line x1="124.5" y1="155.5" x2="124.5" y2="157.9" stroke="#3a3a3a" stroke-width="0.9"/>
<line x1="166.8" y1="155.5" x2="166.8" y2="157.9" stroke="#3a3a3a" stroke-width="0.9"/>
<line x1="209.7" y1="155.5" x2="209.7" y2="157.9" stroke="#3a3a3a" stroke-width="0.9"/>
<text x="33.7" y="135.3" class="lab" font-size="7.6" textLength="35.71" lengthAdjust="spacingAndGlyphs">I = 0.7 nA</text>
<rect x="256.8" y="128" width="67.2" height="27.5" fill="#fcfde6"/>
<rect x="324" y="128" width="74.8" height="27.5" fill="#fdecee"/>
<rect x="255" y="136.05" width="6" height="3.5" fill="#f6f3fc"/>
<rect x="259.7" y="139.9" width="17.7" height="3.5" fill="#f6f3fc"/>
<rect x="265.7" y="143.75" width="2.7" height="3.5" fill="#f6f3fc"/>
<rect x="271" y="143.75" width="2.7" height="3.5" fill="#f6f3fc"/>
<rect x="275.7" y="143.75" width="51.9" height="3.5" fill="#f6f3fc"/>
<rect x="308" y="147.6" width="2.7" height="3.5" fill="#f6f3fc"/>
<rect x="313.3" y="147.6" width="2.7" height="3.5" fill="#f6f3fc"/>
<rect x="318.6" y="147.6" width="2.7" height="3.5" fill="#f6f3fc"/>
<rect x="323.5" y="147.6" width="53.9" height="3.5" fill="#f6f3fc"/>
<rect x="376.7" y="147.6" width="2.7" height="3.5" fill="#f6f3fc"/>
<rect x="366.2" y="151.45" width="2.7" height="3.5" fill="#f6f3fc"/>
<rect x="371" y="151.45" width="5.3" height="3.5" fill="#f6f3fc"/>
<rect x="376.1" y="151.45" width="23.4" height="3.5" fill="#f6f3fc"/>
<rect x="255.65" y="137.1" width="4.7" height="1.4" fill="#4a4ac4"/>
<rect x="254.55" y="136.85" width="3.9" height="1.9" fill="#14148e"/>
<rect x="257.55" y="136.85" width="3.9" height="1.9" fill="#14148e"/>
<rect x="260.35" y="140.95" width="16.4" height="1.4" fill="#4a4ac4"/>
<rect x="259.25" y="140.7" width="3.9" height="1.9" fill="#14148e"/>
<rect x="264.15" y="140.7" width="3.9" height="1.9" fill="#14148e"/>
<rect x="269.05" y="140.7" width="3.9" height="1.9" fill="#14148e"/>
<rect x="273.95" y="140.7" width="3.9" height="1.9" fill="#14148e"/>
<rect x="266.15" y="144.5" width="2.1" height="2" fill="#14148e"/>
<rect x="271.45" y="144.5" width="2.1" height="2" fill="#14148e"/>
<rect x="276.35" y="144.8" width="50.6" height="1.4" fill="#4a4ac4"/>
<rect x="275.25" y="144.55" width="3.9" height="1.9" fill="#14148e"/>
<rect x="280.14" y="144.55" width="3.9" height="1.9" fill="#14148e"/>
<rect x="285.03" y="144.55" width="3.9" height="1.9" fill="#14148e"/>
<rect x="289.92" y="144.55" width="3.9" height="1.9" fill="#14148e"/>
<rect x="294.81" y="144.55" width="3.9" height="1.9" fill="#14148e"/>
<rect x="299.7" y="144.55" width="3.9" height="1.9" fill="#14148e"/>
<rect x="304.59" y="144.55" width="3.9" height="1.9" fill="#14148e"/>
<rect x="309.48" y="144.55" width="3.9" height="1.9" fill="#14148e"/>
<rect x="314.37" y="144.55" width="3.9" height="1.9" fill="#14148e"/>
<rect x="319.26" y="144.55" width="3.9" height="1.9" fill="#14148e"/>
<rect x="324.15" y="144.55" width="3.9" height="1.9" fill="#14148e"/>
<rect x="308.45" y="148.35" width="2.1" height="2" fill="#14148e"/>
<rect x="313.75" y="148.35" width="2.1" height="2" fill="#14148e"/>
<rect x="319.05" y="148.35" width="2.1" height="2" fill="#14148e"/>
<rect x="324.15" y="148.65" width="52.6" height="1.4" fill="#4a4ac4"/>
<rect x="323.05" y="148.4" width="3.9" height="1.9" fill="#14148e"/>
<rect x="327.68" y="148.4" width="3.9" height="1.9" fill="#14148e"/>
<rect x="332.3" y="148.4" width="3.9" height="1.9" fill="#14148e"/>
<rect x="336.93" y="148.4" width="3.9" height="1.9" fill="#14148e"/>
<rect x="341.56" y="148.4" width="3.9" height="1.9" fill="#14148e"/>
<rect x="346.19" y="148.4" width="3.9" height="1.9" fill="#14148e"/>
<rect x="350.81" y="148.4" width="3.9" height="1.9" fill="#14148e"/>
<rect x="355.44" y="148.4" width="3.9" height="1.9" fill="#14148e"/>
<rect x="360.07" y="148.4" width="3.9" height="1.9" fill="#14148e"/>
<rect x="364.7" y="148.4" width="3.9" height="1.9" fill="#14148e"/>
<rect x="369.32" y="148.4" width="3.9" height="1.9" fill="#14148e"/>
<rect x="373.95" y="148.4" width="3.9" height="1.9" fill="#14148e"/>
<rect x="377.15" y="148.35" width="2.1" height="2" fill="#14148e"/>
<rect x="366.65" y="152.2" width="2.1" height="2" fill="#14148e"/>
<rect x="371.65" y="152.5" width="4" height="1.4" fill="#4a4ac4"/>
<rect x="370.55" y="152.25" width="3.9" height="1.9" fill="#14148e"/>
<rect x="372.85" y="152.25" width="3.9" height="1.9" fill="#14148e"/>
<rect x="376.75" y="152.5" width="22.1" height="1.4" fill="#4a4ac4"/>
<rect x="375.65" y="152.25" width="3.9" height="1.9" fill="#14148e"/>
<rect x="380.75" y="152.25" width="3.9" height="1.9" fill="#14148e"/>
<rect x="385.85" y="152.25" width="3.9" height="1.9" fill="#14148e"/>
<rect x="390.95" y="152.25" width="3.9" height="1.9" fill="#14148e"/>
<rect x="396.05" y="152.25" width="3.9" height="1.9" fill="#14148e"/>
<rect x="256.8" y="128" width="142" height="27.5" fill="none" stroke="#3a3a3a" stroke-width="1.15"/>
<line x1="254.2" y1="149.35" x2="256.8" y2="149.35" stroke="#333" stroke-width="1"/>
<text x="251.4" y="152.25" class="tk" font-size="8.6" textLength="4.71" lengthAdjust="spacingAndGlyphs" text-anchor="end" style="stroke-width:0.15px">2</text>
<line x1="254.2" y1="141.65" x2="256.8" y2="141.65" stroke="#333" stroke-width="1"/>
<text x="251.4" y="144.55" class="tk" font-size="8.6" textLength="4.71" lengthAdjust="spacingAndGlyphs" text-anchor="end" style="stroke-width:0.15px">4</text>
<line x1="254.2" y1="133.95" x2="256.8" y2="133.95" stroke="#333" stroke-width="1"/>
<text x="251.4" y="136.85" class="tk" font-size="8.6" textLength="4.71" lengthAdjust="spacingAndGlyphs" text-anchor="end" style="stroke-width:0.15px">6</text>
<line x1="258.3" y1="155.5" x2="258.3" y2="157.9" stroke="#3a3a3a" stroke-width="0.9"/>
<line x1="290" y1="155.5" x2="290" y2="157.9" stroke="#3a3a3a" stroke-width="0.9"/>
<line x1="321.9" y1="155.5" x2="321.9" y2="157.9" stroke="#3a3a3a" stroke-width="0.9"/>
<line x1="353.6" y1="155.5" x2="353.6" y2="157.9" stroke="#3a3a3a" stroke-width="0.9"/>
<line x1="385" y1="155.5" x2="385" y2="157.9" stroke="#3a3a3a" stroke-width="0.9"/>
<text x="262.2" y="135.3" class="lab" font-size="7.6" textLength="44.81" lengthAdjust="spacingAndGlyphs">I = 0.775 nA</text>
<rect x="30" y="158" width="54" height="27.5" fill="#fcfde6"/>
<rect x="84" y="158" width="128" height="27.5" fill="#fdecee"/>
<rect x="29" y="181.45" width="22.1" height="3.5" fill="#f6f3fc"/>
<rect x="49.1" y="177.6" width="19.2" height="3.5" fill="#f6f3fc"/>
<rect x="70.2" y="173.75" width="19.8" height="3.5" fill="#f6f3fc"/>
<rect x="88.8" y="173.75" width="2.7" height="3.5" fill="#f6f3fc"/>
<rect x="65.7" y="169.9" width="6.8" height="3.5" fill="#f6f3fc"/>
<rect x="83.6" y="169.9" width="2.7" height="3.5" fill="#f6f3fc"/>
<rect x="86.7" y="169.9" width="6" height="3.5" fill="#f6f3fc"/>
<rect x="91.6" y="169.9" width="55" height="3.5" fill="#f6f3fc"/>
<rect x="142.4" y="166.05" width="5.6" height="3.5" fill="#f6f3fc"/>
<rect x="146.1" y="166.05" width="27" height="3.5" fill="#f6f3fc"/>
<rect x="168.1" y="162.2" width="2.7" height="3.5" fill="#f6f3fc"/>
<rect x="172" y="162.2" width="25.5" height="3.5" fill="#f6f3fc"/>
<rect x="192.9" y="158.35" width="19.3" height="3.5" fill="#f6f3fc"/>
<rect x="29.65" y="182.35" width="20.8" height="1.7" fill="#14148e"/>
<rect x="49.75" y="178.5" width="17.9" height="1.7" fill="#14148e"/>
<rect x="70.85" y="174.65" width="18.5" height="1.7" fill="#14148e"/>
<rect x="89.25" y="174.5" width="2.1" height="2" fill="#14148e"/>
<rect x="66.35" y="170.8" width="5.5" height="1.7" fill="#14148e"/>
<rect x="84.05" y="170.65" width="2.1" height="2" fill="#14148e"/>
<rect x="87.35" y="170.8" width="4.7" height="1.7" fill="#14148e"/>
<rect x="92.25" y="170.8" width="53.7" height="1.7" fill="#14148e"/>
<rect x="143.05" y="166.95" width="4.3" height="1.7" fill="#14148e"/>
<rect x="146.75" y="166.95" width="25.7" height="1.7" fill="#14148e"/>
<rect x="168.55" y="162.95" width="2.1" height="2" fill="#14148e"/>
<rect x="172.65" y="163.1" width="24.2" height="1.7" fill="#14148e"/>
<rect x="193.55" y="159.25" width="18" height="1.7" fill="#14148e"/>
<rect x="30" y="158" width="182" height="27.5" fill="none" stroke="#3a3a3a" stroke-width="1.15"/>
<line x1="27.4" y1="179.35" x2="30" y2="179.35" stroke="#333" stroke-width="1"/>
<text x="24.6" y="182.25" class="tk" font-size="8.6" textLength="4.71" lengthAdjust="spacingAndGlyphs" text-anchor="end" style="stroke-width:0.15px">2</text>
<line x1="27.4" y1="171.65" x2="30" y2="171.65" stroke="#333" stroke-width="1"/>
<text x="24.6" y="174.55" class="tk" font-size="8.6" textLength="4.71" lengthAdjust="spacingAndGlyphs" text-anchor="end" style="stroke-width:0.15px">4</text>
<line x1="27.4" y1="163.95" x2="30" y2="163.95" stroke="#333" stroke-width="1"/>
<text x="24.6" y="166.85" class="tk" font-size="8.6" textLength="4.71" lengthAdjust="spacingAndGlyphs" text-anchor="end" style="stroke-width:0.15px">6</text>
<line x1="30.7" y1="185.5" x2="30.7" y2="187.9" stroke="#3a3a3a" stroke-width="0.9"/>
<line x1="56.4" y1="185.5" x2="56.4" y2="187.9" stroke="#3a3a3a" stroke-width="0.9"/>
<line x1="82.4" y1="185.5" x2="82.4" y2="187.9" stroke="#3a3a3a" stroke-width="0.9"/>
<line x1="124.5" y1="185.5" x2="124.5" y2="187.9" stroke="#3a3a3a" stroke-width="0.9"/>
<line x1="166.8" y1="185.5" x2="166.8" y2="187.9" stroke="#3a3a3a" stroke-width="0.9"/>
<line x1="209.7" y1="185.5" x2="209.7" y2="187.9" stroke="#3a3a3a" stroke-width="0.9"/>
<text x="33.7" y="165.3" class="lab" font-size="7.6" textLength="35.71" lengthAdjust="spacingAndGlyphs">I = 0.5 nA</text>
<rect x="256.8" y="158" width="67.2" height="27.5" fill="#fcfde6"/>
<rect x="324" y="158" width="74.8" height="27.5" fill="#fdecee"/>
<rect x="255" y="169.9" width="17.3" height="3.5" fill="#f6f3fc"/>
<rect x="265.9" y="173.75" width="2.7" height="3.5" fill="#f6f3fc"/>
<rect x="270.7" y="173.75" width="54.3" height="3.5" fill="#f6f3fc"/>
<rect x="318.6" y="177.6" width="2.7" height="3.5" fill="#f6f3fc"/>
<rect x="323.5" y="177.6" width="53.3" height="3.5" fill="#f6f3fc"/>
<rect x="366.2" y="181.45" width="2.7" height="3.5" fill="#f6f3fc"/>
<rect x="371" y="181.45" width="5.3" height="3.5" fill="#f6f3fc"/>
<rect x="376.1" y="181.45" width="23.4" height="3.5" fill="#f6f3fc"/>
<rect x="255.65" y="170.95" width="16" height="1.4" fill="#4a4ac4"/>
<rect x="254.55" y="170.7" width="3.9" height="1.9" fill="#14148e"/>
<rect x="259.32" y="170.7" width="3.9" height="1.9" fill="#14148e"/>
<rect x="264.08" y="170.7" width="3.9" height="1.9" fill="#14148e"/>
<rect x="268.85" y="170.7" width="3.9" height="1.9" fill="#14148e"/>
<rect x="266.35" y="174.5" width="2.1" height="2" fill="#14148e"/>
<rect x="271.35" y="174.8" width="53" height="1.4" fill="#4a4ac4"/>
<rect x="270.25" y="174.55" width="3.9" height="1.9" fill="#14148e"/>
<rect x="274.91" y="174.55" width="3.9" height="1.9" fill="#14148e"/>
<rect x="279.58" y="174.55" width="3.9" height="1.9" fill="#14148e"/>
<rect x="284.24" y="174.55" width="3.9" height="1.9" fill="#14148e"/>
<rect x="288.9" y="174.55" width="3.9" height="1.9" fill="#14148e"/>
<rect x="293.57" y="174.55" width="3.9" height="1.9" fill="#14148e"/>
<rect x="298.23" y="174.55" width="3.9" height="1.9" fill="#14148e"/>
<rect x="302.9" y="174.55" width="3.9" height="1.9" fill="#14148e"/>
<rect x="307.56" y="174.55" width="3.9" height="1.9" fill="#14148e"/>
<rect x="312.22" y="174.55" width="3.9" height="1.9" fill="#14148e"/>
<rect x="316.89" y="174.55" width="3.9" height="1.9" fill="#14148e"/>
<rect x="321.55" y="174.55" width="3.9" height="1.9" fill="#14148e"/>
<rect x="319.05" y="178.35" width="2.1" height="2" fill="#14148e"/>
<rect x="324.15" y="178.65" width="52" height="1.4" fill="#4a4ac4"/>
<rect x="323.05" y="178.4" width="3.9" height="1.9" fill="#14148e"/>
<rect x="327.62" y="178.4" width="3.9" height="1.9" fill="#14148e"/>
<rect x="332.2" y="178.4" width="3.9" height="1.9" fill="#14148e"/>
<rect x="336.77" y="178.4" width="3.9" height="1.9" fill="#14148e"/>
<rect x="341.34" y="178.4" width="3.9" height="1.9" fill="#14148e"/>
<rect x="345.91" y="178.4" width="3.9" height="1.9" fill="#14148e"/>
<rect x="350.49" y="178.4" width="3.9" height="1.9" fill="#14148e"/>
<rect x="355.06" y="178.4" width="3.9" height="1.9" fill="#14148e"/>
<rect x="359.63" y="178.4" width="3.9" height="1.9" fill="#14148e"/>
<rect x="364.2" y="178.4" width="3.9" height="1.9" fill="#14148e"/>
<rect x="368.78" y="178.4" width="3.9" height="1.9" fill="#14148e"/>
<rect x="373.35" y="178.4" width="3.9" height="1.9" fill="#14148e"/>
<rect x="366.65" y="182.2" width="2.1" height="2" fill="#14148e"/>
<rect x="371.65" y="182.5" width="4" height="1.4" fill="#4a4ac4"/>
<rect x="370.55" y="182.25" width="3.9" height="1.9" fill="#14148e"/>
<rect x="372.85" y="182.25" width="3.9" height="1.9" fill="#14148e"/>
<rect x="376.75" y="182.5" width="22.1" height="1.4" fill="#4a4ac4"/>
<rect x="375.65" y="182.25" width="3.9" height="1.9" fill="#14148e"/>
<rect x="380.75" y="182.25" width="3.9" height="1.9" fill="#14148e"/>
<rect x="385.85" y="182.25" width="3.9" height="1.9" fill="#14148e"/>
<rect x="390.95" y="182.25" width="3.9" height="1.9" fill="#14148e"/>
<rect x="396.05" y="182.25" width="3.9" height="1.9" fill="#14148e"/>
<rect x="256.8" y="158" width="142" height="27.5" fill="none" stroke="#3a3a3a" stroke-width="1.15"/>
<line x1="254.2" y1="179.35" x2="256.8" y2="179.35" stroke="#333" stroke-width="1"/>
<text x="251.4" y="182.25" class="tk" font-size="8.6" textLength="4.71" lengthAdjust="spacingAndGlyphs" text-anchor="end" style="stroke-width:0.15px">2</text>
<line x1="254.2" y1="171.65" x2="256.8" y2="171.65" stroke="#333" stroke-width="1"/>
<text x="251.4" y="174.55" class="tk" font-size="8.6" textLength="4.71" lengthAdjust="spacingAndGlyphs" text-anchor="end" style="stroke-width:0.15px">4</text>
<line x1="254.2" y1="163.95" x2="256.8" y2="163.95" stroke="#333" stroke-width="1"/>
<text x="251.4" y="166.85" class="tk" font-size="8.6" textLength="4.71" lengthAdjust="spacingAndGlyphs" text-anchor="end" style="stroke-width:0.15px">6</text>
<line x1="258.3" y1="185.5" x2="258.3" y2="187.9" stroke="#3a3a3a" stroke-width="0.9"/>
<line x1="290" y1="185.5" x2="290" y2="187.9" stroke="#3a3a3a" stroke-width="0.9"/>
<line x1="321.9" y1="185.5" x2="321.9" y2="187.9" stroke="#3a3a3a" stroke-width="0.9"/>
<line x1="353.6" y1="185.5" x2="353.6" y2="187.9" stroke="#3a3a3a" stroke-width="0.9"/>
<line x1="385" y1="185.5" x2="385" y2="187.9" stroke="#3a3a3a" stroke-width="0.9"/>
<text x="262.2" y="165.3" class="lab" font-size="7.6" textLength="40.26" lengthAdjust="spacingAndGlyphs">I = 0.75 nA</text>
<circle cx="32.5" cy="33.3" r="1.3" fill="#222"/>
<circle cx="62.2" cy="33.3" r="1.3" fill="#222"/>
<circle cx="83.5" cy="33.3" r="1.3" fill="#222"/>
<circle cx="100.2" cy="33.3" r="1.3" fill="#222"/>
<circle cx="147" cy="33.3" r="1.3" fill="#222"/>
<circle cx="168.3" cy="33.3" r="1.3" fill="#222"/>
<circle cx="202" cy="33.3" r="1.3" fill="#222"/>
<circle cx="259.7" cy="33.3" r="1.3" fill="#222"/>
<circle cx="264.9" cy="33.3" r="1.3" fill="#222"/>
<circle cx="270.1" cy="33.3" r="1.3" fill="#222"/>
<circle cx="280.8" cy="33.3" r="1.3" fill="#222"/>
<circle cx="322.8" cy="33.3" r="1.3" fill="#222"/>
<circle cx="354.5" cy="33.3" r="1.3" fill="#222"/>
<circle cx="386.3" cy="33.3" r="1.3" fill="#222"/>
<text x="1.6" y="46" class="big">C</text>
<text x="227.6" y="46" class="big">D</text>
<text x="54" y="7.6" class="big">A</text>
<text x="267.4" y="7.8" class="big">B</text>
<text transform="translate(7.4,118.3) rotate(-90)" x="0" y="0" class="ax" font-size="8.3" textLength="106.51" lengthAdjust="spacingAndGlyphs" text-anchor="middle">Number of spikes per burst</text>
<text transform="translate(233.3,118.3) rotate(-90)" x="0" y="0" class="ax" font-size="8.3" textLength="106.51" lengthAdjust="spacingAndGlyphs" text-anchor="middle">Number of spikes per burst</text>
<text x="120.7" y="262.2" class="ax" font-size="8.3" textLength="117.17" lengthAdjust="spacingAndGlyphs" text-anchor="middle">Hay model parameter change</text>
<text x="327.5" y="262.2" class="ax" font-size="8.3" textLength="126.76" lengthAdjust="spacingAndGlyphs" text-anchor="middle">Almog model parameter change</text>
<text transform="translate(32.3,188.3) rotate(-90)" x="0" y="0" class="xl" font-size="4.27" textLength="59.96" lengthAdjust="spacingAndGlyphs" text-anchor="end">gCaHVA: 100%, gbar: 100.0%</text>
<text transform="translate(58,188.3) rotate(-90)" x="0" y="0" class="xl" font-size="4.27" textLength="59.96" lengthAdjust="spacingAndGlyphs" text-anchor="end">gCaHVA: 100%, gbar: 160.0%</text>
<text transform="translate(84,188.3) rotate(-90)" x="0" y="0" class="xl" font-size="4.27" textLength="59.96" lengthAdjust="spacingAndGlyphs" text-anchor="end">gCaHVA: 100%, gbar: 220.0%</text>
<text transform="translate(126.1,188.3) rotate(-90)" x="0" y="0" class="xl" font-size="4.27" textLength="57.39" lengthAdjust="spacingAndGlyphs" text-anchor="end">gCaHVA: 75.0%, gbar: 220%</text>
<text transform="translate(168.4,188.3) rotate(-90)" x="0" y="0" class="xl" font-size="4.27" textLength="57.39" lengthAdjust="spacingAndGlyphs" text-anchor="end">gCaHVA: 50.0%, gbar: 220%</text>
<text transform="translate(211.3,188.3) rotate(-90)" x="0" y="0" class="xl" font-size="4.27" textLength="57.39" lengthAdjust="spacingAndGlyphs" text-anchor="end">gCaHVA: 25.0%, gbar: 220%</text>
<text transform="translate(259.9,188.3) rotate(-90)" x="0" y="0" class="xl" font-size="4.27" textLength="48.96" lengthAdjust="spacingAndGlyphs" text-anchor="end">gca: 100%, gsk: 100.0%</text>
<text transform="translate(291.6,188.3) rotate(-90)" x="0" y="0" class="xl" font-size="4.27" textLength="48.96" lengthAdjust="spacingAndGlyphs" text-anchor="end">gca: 100%, gsk: 250.0%</text>
<text transform="translate(323.5,188.3) rotate(-90)" x="0" y="0" class="xl" font-size="4.27" textLength="48.96" lengthAdjust="spacingAndGlyphs" text-anchor="end">gca: 100%, gsk: 400.0%</text>
<text transform="translate(355.2,188.3) rotate(-90)" x="0" y="0" class="xl" font-size="4.27" textLength="48.96" lengthAdjust="spacingAndGlyphs" text-anchor="end">gca: 130.0%, gsk: 400%</text>
<text transform="translate(386.6,188.3) rotate(-90)" x="0" y="0" class="xl" font-size="4.27" textLength="48.96" lengthAdjust="spacingAndGlyphs" text-anchor="end">gca: 160.0%, gsk: 400%</text>
<rect x="128.3" y="2.7" width="19.5" height="2.4" fill="#111"/>
<rect x="337.8" y="2.6" width="13.6" height="2.4" fill="#111"/>
<polyline points="81.0,17.4 90.0,17.9 100.0,18.3 115.0,18.6 130.0,19.0 140.0,19.4 151.8,20.5" fill="none" stroke="#222" stroke-width="0.95" stroke-linecap="round" stroke-linejoin="round"/>
<polyline points="81.0,17.4 88.0,17.8" fill="none" stroke="#111" stroke-width="1.5" stroke-linecap="round" stroke-linejoin="round"/>
<polyline points="140.0,18.8 150.0,17.6 160.4,16.3 165.5,13.4" fill="none" stroke="#333" stroke-width="0.6" stroke-linecap="round" stroke-linejoin="round"/>
<polyline points="160.4,16.3 163.8,14.6" fill="none" stroke="#333" stroke-width="0.45" stroke-linecap="round" stroke-linejoin="round"/>
<polyline points="150.0,20.2 160.0,19.6 168.3,18.4 176.2,15.6 176.8,14.1" fill="none" stroke="#333" stroke-width="0.55" stroke-linecap="round" stroke-linejoin="round"/>
<polyline points="151.3,21.0 158.0,23.2 164.9,26.3 172.8,30.4" fill="none" stroke="#333" stroke-width="0.55" stroke-linecap="round" stroke-linejoin="round"/>
<polyline points="164.9,26.3 168.3,25.8 178.5,31.0" fill="none" stroke="#333" stroke-width="0.45" stroke-linecap="round" stroke-linejoin="round"/>
<polyline points="156.0,22.6 165.0,23.8 174.0,25.3" fill="none" stroke="#333" stroke-width="0.45" stroke-linecap="round" stroke-linejoin="round"/>
<polyline points="168.5,28.6 171.5,31.8" fill="none" stroke="#333" stroke-width="0.4" stroke-linecap="round" stroke-linejoin="round"/>
<polyline points="168.3,18.4 172.0,21.0 175.0,22.0" fill="none" stroke="#333" stroke-width="0.4" stroke-linecap="round" stroke-linejoin="round"/>
<polyline points="80.0,17.0 72.0,21.5 64.0,26.4" fill="none" stroke="#333" stroke-width="0.55" stroke-linecap="round" stroke-linejoin="round"/>
<polyline points="79.5,16.4 72.0,16.0 65.6,15.8" fill="none" stroke="#333" stroke-width="0.45" stroke-linecap="round" stroke-linejoin="round"/>
<polyline points="79.5,16.0 72.5,14.5 66.5,13.8" fill="none" stroke="#333" stroke-width="0.4" stroke-linecap="round" stroke-linejoin="round"/>
<polyline points="79.5,16.8 73.0,17.5 67.0,18.2" fill="none" stroke="#333" stroke-width="0.4" stroke-linecap="round" stroke-linejoin="round"/>
<polyline points="79.8,15.6 75.0,13.5 70.0,11.3" fill="none" stroke="#333" stroke-width="0.45" stroke-linecap="round" stroke-linejoin="round"/>
<polyline points="80.0,15.2 76.0,12.0 71.6,9.0" fill="none" stroke="#333" stroke-width="0.4" stroke-linecap="round" stroke-linejoin="round"/>
<polyline points="80.2,14.8 77.0,8.5 73.9,2.3" fill="none" stroke="#333" stroke-width="0.45" stroke-linecap="round" stroke-linejoin="round"/>
<polyline points="80.5,14.6 79.0,8.0 77.6,1.5" fill="none" stroke="#333" stroke-width="0.4" stroke-linecap="round" stroke-linejoin="round"/>
<polyline points="81.0,14.8 82.9,9.0 84.0,4.0" fill="none" stroke="#333" stroke-width="0.4" stroke-linecap="round" stroke-linejoin="round"/>
<polyline points="80.0,17.5 75.5,20.5 71.0,22.6" fill="none" stroke="#333" stroke-width="0.4" stroke-linecap="round" stroke-linejoin="round"/>
<polyline points="80.6,18.0 80.2,22.5 79.5,27.0" fill="none" stroke="#333" stroke-width="0.4" stroke-linecap="round" stroke-linejoin="round"/>
<polyline points="85.9,4.5 88.0,9.5 90.4,15.0 91.0,17.6" fill="none" stroke="#333" stroke-width="0.45" stroke-linecap="round" stroke-linejoin="round"/>
<polyline points="88.5,12.2 90.4,10.6 93.0,8.0 95.0,6.0" fill="none" stroke="#333" stroke-width="0.4" stroke-linecap="round" stroke-linejoin="round"/>
<polyline points="94.2,6.8 97.5,7.5 100.2,9.0 101.5,12.5 103.3,16.6" fill="none" stroke="#333" stroke-width="0.4" stroke-linecap="round" stroke-linejoin="round"/>
<polyline points="103.3,6.8 102.5,12.0 101.8,18.1" fill="none" stroke="#333" stroke-width="0.4" stroke-linecap="round" stroke-linejoin="round"/>
<polyline points="97.5,17.8 95.5,14.5 93.5,12.5" fill="none" stroke="#333" stroke-width="0.35" stroke-linecap="round" stroke-linejoin="round"/>
<polyline points="85.5,17.4 87.0,14.0 86.5,11.0" fill="none" stroke="#333" stroke-width="0.35" stroke-linecap="round" stroke-linejoin="round"/>
<polyline points="82.1,18.2 83.5,23.0 85.2,27.9" fill="none" stroke="#333" stroke-width="0.45" stroke-linecap="round" stroke-linejoin="round"/>
<polyline points="85.2,18.4 87.5,22.5 89.7,26.4 92.0,23.0 94.2,19.6 94.8,18.0" fill="none" stroke="#333" stroke-width="0.45" stroke-linecap="round" stroke-linejoin="round"/>
<polyline points="96.5,18.8 97.5,25.0 98.3,31.4" fill="none" stroke="#333" stroke-width="0.45" stroke-linecap="round" stroke-linejoin="round"/>
<polyline points="100.0,18.2 101.0,20.5 102.2,22.2" fill="none" stroke="#333" stroke-width="0.35" stroke-linecap="round" stroke-linejoin="round"/>
<polyline points="104.0,17.9 106.5,16.5 110.0,14.3" fill="none" stroke="#333" stroke-width="0.4" stroke-linecap="round" stroke-linejoin="round"/>
<polyline points="106.0,18.3 109.0,19.8 112.0,21.0" fill="none" stroke="#333" stroke-width="0.35" stroke-linecap="round" stroke-linejoin="round"/>
<polyline points="118.0,18.5 121.0,16.5" fill="none" stroke="#333" stroke-width="0.3" stroke-linecap="round" stroke-linejoin="round"/>
<ellipse cx="80.6" cy="16.3" rx="1.7" ry="2.5" fill="#111"/>
<polyline points="304.0,12.8 315.0,15.3 328.0,17.2" fill="none" stroke="#111" stroke-width="1.4" stroke-linecap="round" stroke-linejoin="round"/>
<polyline points="326.0,16.6 340.0,17.7 352.0,18.5 362.0,19.3" fill="none" stroke="#333" stroke-width="0.55" stroke-linecap="round" stroke-linejoin="round"/>
<polyline points="326.0,17.2 340.0,19.0 352.0,20.2 360.0,21.0 364.5,21.6" fill="none" stroke="#333" stroke-width="0.55" stroke-linecap="round" stroke-linejoin="round"/>
<polyline points="326.0,17.8 340.0,20.3 350.0,21.8 356.0,23.5 361.0,26.5 364.2,28.5 366.0,31.0" fill="none" stroke="#333" stroke-width="0.55" stroke-linecap="round" stroke-linejoin="round"/>
<polyline points="335.0,19.5 348.0,21.6 357.0,24.6 361.5,28.5 363.6,31.7" fill="none" stroke="#333" stroke-width="0.45" stroke-linecap="round" stroke-linejoin="round"/>
<polyline points="361.5,18.8 363.2,15.9 365.0,11.0 366.6,6.3" fill="none" stroke="#333" stroke-width="0.5" stroke-linecap="round" stroke-linejoin="round"/>
<polyline points="363.5,17.5 366.5,15.0 368.7,13.4 369.7,14.5 368.5,16.5 366.0,17.8" fill="none" stroke="#333" stroke-width="0.5" stroke-linecap="round" stroke-linejoin="round"/>
<polyline points="363.0,19.5 366.6,20.1 367.4,21.6 366.2,23.2" fill="none" stroke="#333" stroke-width="0.6" stroke-linecap="round" stroke-linejoin="round"/>
<polyline points="322.4,15.6 323.2,12.2 327.7,9.0" fill="none" stroke="#333" stroke-width="0.5" stroke-linecap="round" stroke-linejoin="round"/>
<polyline points="313.0,14.6 315.0,10.5 317.5,14.8" fill="none" stroke="#333" stroke-width="0.5" stroke-linecap="round" stroke-linejoin="round"/>
<polyline points="316.0,16.3 319.0,18.0 322.4,19.3" fill="none" stroke="#333" stroke-width="0.5" stroke-linecap="round" stroke-linejoin="round"/>
<polyline points="300.0,10.8 296.0,6.2 291.3,1.0" fill="none" stroke="#222" stroke-width="0.8" stroke-linecap="round" stroke-linejoin="round"/>
<polyline points="296.5,10.2 295.5,9.0 292.3,6.9 289.7,7.9 290.2,10.0 292.3,10.6 295.0,10.4" fill="none" stroke="#333" stroke-width="0.7" stroke-linecap="round" stroke-linejoin="round"/>
<polyline points="299.5,12.5 296.6,13.7 295.0,15.8" fill="none" stroke="#333" stroke-width="0.7" stroke-linecap="round" stroke-linejoin="round"/>
<polyline points="302.0,11.0 301.5,7.5 300.8,4.2 299.8,2.8" fill="none" stroke="#333" stroke-width="0.7" stroke-linecap="round" stroke-linejoin="round"/>
<polyline points="304.0,11.0 304.5,7.5 305.5,5.2" fill="none" stroke="#333" stroke-width="0.6" stroke-linecap="round" stroke-linejoin="round"/>
<polyline points="305.5,11.0 307.5,8.0 309.0,6.5 311.0,8.5 311.5,10.5" fill="none" stroke="#333" stroke-width="0.7" stroke-linecap="round" stroke-linejoin="round"/>
<polyline points="306.5,11.5 309.0,10.0 311.0,9.6 314.5,9.4 316.6,12.7" fill="none" stroke="#333" stroke-width="0.6" stroke-linecap="round" stroke-linejoin="round"/>
<polyline points="301.8,15.0 299.7,18.5 299.7,21.1 297.6,21.6" fill="none" stroke="#333" stroke-width="0.7" stroke-linecap="round" stroke-linejoin="round"/>
<polyline points="302.9,15.5 302.9,21.0 302.9,28.0" fill="none" stroke="#555" stroke-width="0.6" stroke-linecap="round" stroke-linejoin="round"/>
<polyline points="304.5,15.0 305.0,19.0 305.1,22.2" fill="none" stroke="#333" stroke-width="0.6" stroke-linecap="round" stroke-linejoin="round"/>
<polyline points="309.2,15.5 310.5,18.5 311.3,21.1" fill="none" stroke="#333" stroke-width="0.6" stroke-linecap="round" stroke-linejoin="round"/>
<polyline points="313.5,16.2 314.2,18.0 314.5,19.5" fill="none" stroke="#333" stroke-width="0.5" stroke-linecap="round" stroke-linejoin="round"/>
<polyline points="300.5,14.5 298.0,17.5 297.0,19.3" fill="none" stroke="#444" stroke-width="0.5" stroke-linecap="round" stroke-linejoin="round"/>
<polyline points="298.5,18.5 301.0,18.0" fill="none" stroke="#444" stroke-width="0.5" stroke-linecap="round" stroke-linejoin="round"/>
<polyline points="303.5,9.0 302.5,6.5" fill="none" stroke="#444" stroke-width="0.5" stroke-linecap="round" stroke-linejoin="round"/>
<polyline points="308.0,12.0 310.5,11.8 312.5,12.8" fill="none" stroke="#333" stroke-width="0.6" stroke-linecap="round" stroke-linejoin="round"/>
<ellipse cx="303" cy="12.7" rx="4.0" ry="2.4" fill="#111" transform="rotate(15 303 12.7)"/>
<polyline points="304.0,12.8 315.0,15.2 322.0,16.4 328.0,17.2" fill="none" stroke="#111" stroke-width="1.6" stroke-linecap="round" stroke-linejoin="round"/>
</svg></body></html>
